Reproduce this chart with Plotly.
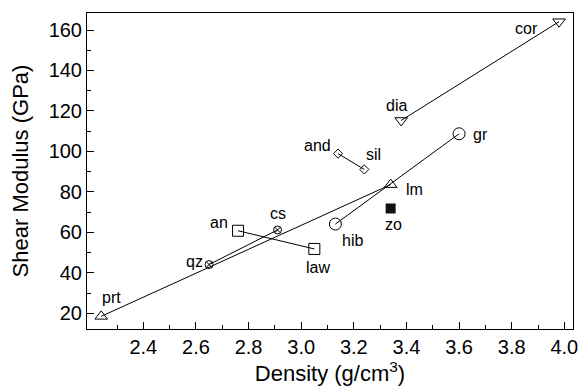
import plotly.graph_objects as go

# Mineral data: density (g/cm^3), shear modulus (GPa)
names = ["prt", "lm", "qz", "cs", "an", "law", "hib", "gr", "dia", "cor", "and", "sil", "zo"]
density = [2.24, 3.34, 2.65, 2.91, 2.76, 3.05, 3.13, 3.60, 3.38, 3.98, 3.14, 3.24, 3.34]
shear = [18.5, 83.6, 44.1, 61.2, 60.8, 51.8, 64.1, 108.7, 115.3, 164.1, 98.9, 91.1, 71.8]

# axis ticks
x_ticks = [2.4, 2.6, 2.8, 3.0, 3.2, 3.4, 3.6, 3.8, 4.0]
x_tick_labels = ["2.4", "2.6", "2.8", "3.0", "3.2", "3.4", "3.6", "3.8", "4.0"]
x_minor = [2.3, 2.5, 2.7, 2.9, 3.1, 3.3, 3.5, 3.7, 3.9]
y_ticks = [20, 40, 60, 80, 100, 120, 140, 160]
y_minor = [30, 50, 70, 90, 110, 130, 150]

# groups (pairs joined by lines) and marker symbols
groups = [
    (["prt", "lm"], "triangle-up-open", 11),
    (["qz", "cs"], "circle-x-open", 8),
    (["an", "law"], "square-open", 11),
    (["hib", "gr"], "circle-open", 12),
    (["dia", "cor"], "triangle-down-open", 11),
    (["and", "sil"], "diamond-open", 7),
]
single = [("zo", "square", 10)]

# label pixel offsets (dx, dy) relative to marker
label_off = {
    "prt": (10, 19), "lm": (24, -5), "qz": (-15, 3), "cs": (0, 16), "an": (-19, 8),
    "law": (4, -19), "hib": (17, -16), "gr": (21, -1), "dia": (-5, 15), "cor": (-33, -7),
    "and": (-21, 8), "sil": (9, 15), "zo": (3, -16),
}

FONT = "Liberation Sans, Arial"
idx = {n: i for i, n in enumerate(names)}
fig = go.Figure()
for members, sym, sz in groups:
    xs = [density[idx[m]] for m in members]
    ys = [shear[idx[m]] for m in members]
    fig.add_trace(go.Scatter(x=xs, y=ys, mode="lines+markers",
                             line=dict(color="black", width=1),
                             marker=dict(symbol=sym, size=sz, color="black",
                                         line=dict(color="black", width=1)),
                             showlegend=False))
for m, sym, sz in single:
    fig.add_trace(go.Scatter(x=[density[idx[m]]], y=[shear[idx[m]]], mode="markers",
                             marker=dict(symbol=sym, size=sz, color="#111111"),
                             showlegend=False))

for n in names:
    dx, dy = label_off[n]
    fig.add_annotation(x=density[idx[n]], y=shear[idx[n]], xref="x", yref="y",
                       text=n, showarrow=False, xshift=dx, yshift=dy,
                       font=dict(family=FONT, size=16, color="black"))

axis_common = dict(showgrid=False, zeroline=False, showline=True, linecolor="black",
                   linewidth=1, mirror=True, ticks="inside", ticklen=7, tickcolor="black",
                   tickfont=dict(family=FONT, size=20, color="black"))

fig.update_xaxes(range=[2.186, 4.033], tickmode="array", tickvals=x_ticks, ticktext=x_tick_labels,
                 minor=dict(tickmode="array", tickvals=x_minor, ticks="inside", ticklen=4,
                            tickcolor="black"),
                 title=dict(text="Density (g/cm<sup>3</sup>)", standoff=6,
                            font=dict(family=FONT, size=22, color="black")),
                 **axis_common)
fig.update_yaxes(range=[12.25, 168.4], tickmode="array", tickvals=y_ticks,
                 minor=dict(tickmode="array", tickvals=y_minor, ticks="inside", ticklen=4,
                            tickcolor="black"),
                 title=dict(text="Shear Modulus (GPa)", standoff=13,
                            font=dict(family=FONT, size=22, color="black")),
                 **axis_common)

fig.update_layout(width=585, height=389, margin=dict(l=87, r=7, t=13, b=60),
                  plot_bgcolor="white", paper_bgcolor="white")
fig.write_html("out.html")
